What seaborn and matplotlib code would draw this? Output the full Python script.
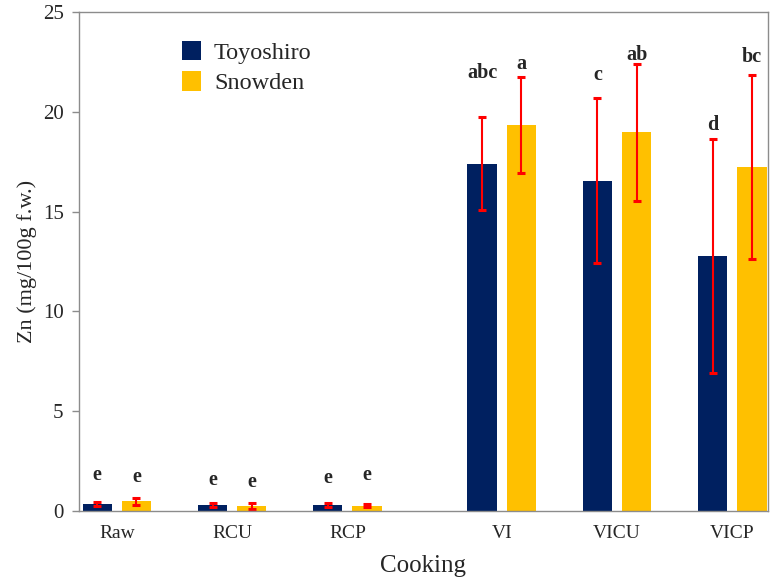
import pandas as pd
import seaborn as sns
import matplotlib.pyplot as plt

sns.set_style("ticks")
plt.rcParams["font.family"] = ["Liberation Serif", "DejaVu Serif"]

# ---------------------------------------------------------
# Data (Zn, mg/100g f.w.)
# ---------------------------------------------------------
cooking = ["Raw", "RCU", "RCP", "VI", "VICU", "VICP"]
slot = [0, 1, 2, 3.34, 4.34, 5.34]  # gap between raw and VI groups

toyoshiro = [0.35, 0.28, 0.28, 17.41, 16.54, 12.77]
toyoshiro_sd = [0.10, 0.10, 0.10, 2.35, 4.13, 5.87]
snowden = [0.47, 0.24, 0.25, 19.33, 18.97, 17.24]
snowden_sd = [0.16, 0.13, 0.08, 2.41, 3.42, 4.60]

toyoshiro_letters = ["e", "e", "e", "abc", "c", "d"]
snowden_letters = ["e", "e", "e", "a", "ab", "bc"]
toyoshiro_letter_y = [1.54, 1.29, 1.37, 21.69, 21.60, 19.10]
snowden_letter_y = [1.45, 1.20, 1.54, 22.14, 22.60, 22.50]

navy = "#002060"
yellow = "#FFC000"
grey = "#8c8c8c"

df = pd.DataFrame({
    "pos": slot + slot,
    "value": toyoshiro + snowden,
    "variety": ["Toyoshiro"] * len(slot) + ["Snowden"] * len(slot),
})

# ---------------------------------------------------------
# Bars
# ---------------------------------------------------------
fig, ax = plt.subplots(figsize=(7.73, 5.78), dpi=100)
sns.barplot(data=df, x="pos", y="value", hue="variety", native_scale=True,
            width=0.68, gap=0.25, palette=[navy, yellow], saturation=1,
            errorbar=None, linewidth=0, ax=ax)

ax.legend(loc="upper left", bbox_to_anchor=(0.136, 0.962), frameon=False,
          fontsize=17.5, handlelength=0.75, handleheight=0.85,
          handletextpad=0.55, labelspacing=0.3, borderaxespad=0)

# error bars and significance letters on top of each bar
bar_groups = list(ax.containers)
for bars, sd, letters, ly in zip(bar_groups,
                                 [toyoshiro_sd, snowden_sd],
                                 [toyoshiro_letters, snowden_letters],
                                 [toyoshiro_letter_y, snowden_letter_y]):
    for patch, e, lab, y in zip(bars.patches, sd, letters, ly):
        xc = patch.get_x() + patch.get_width() / 2
        ax.errorbar(xc, patch.get_height(), yerr=e, fmt="none",
                    ecolor="#FF0000", elinewidth=1.5, capsize=3, capthick=2.2)
        ax.text(xc, y, lab, ha="center", va="baseline", fontsize=14.5,
                fontweight="bold")

# ---------------------------------------------------------
# Axes styling
# ---------------------------------------------------------
ax.set_xlim(-0.33, 5.65)
ax.set_ylim(0, 25)
ax.set_yticks([0, 5, 10, 15, 20, 25])
ax.set_xticks(slot)
ax.set_xticklabels(cooking)
ax.tick_params(axis="x", length=0, pad=10, labelsize=14)
ax.tick_params(axis="y", length=5, width=1, color=grey, pad=6, labelsize=15)
ax.set_xlabel("Cooking", fontsize=18, labelpad=10)
ax.set_ylabel("Zn (mg/100g f.w.)", fontsize=16, labelpad=4)
for side in ["left", "right", "top", "bottom"]:
    ax.spines[side].set_visible(True)
    ax.spines[side].set_color(grey)
    ax.spines[side].set_linewidth(1)

fig.subplots_adjust(left=0.102, right=0.9935, bottom=0.1164, top=0.979)
fig.savefig("out.png", dpi=100)
plt.close()
